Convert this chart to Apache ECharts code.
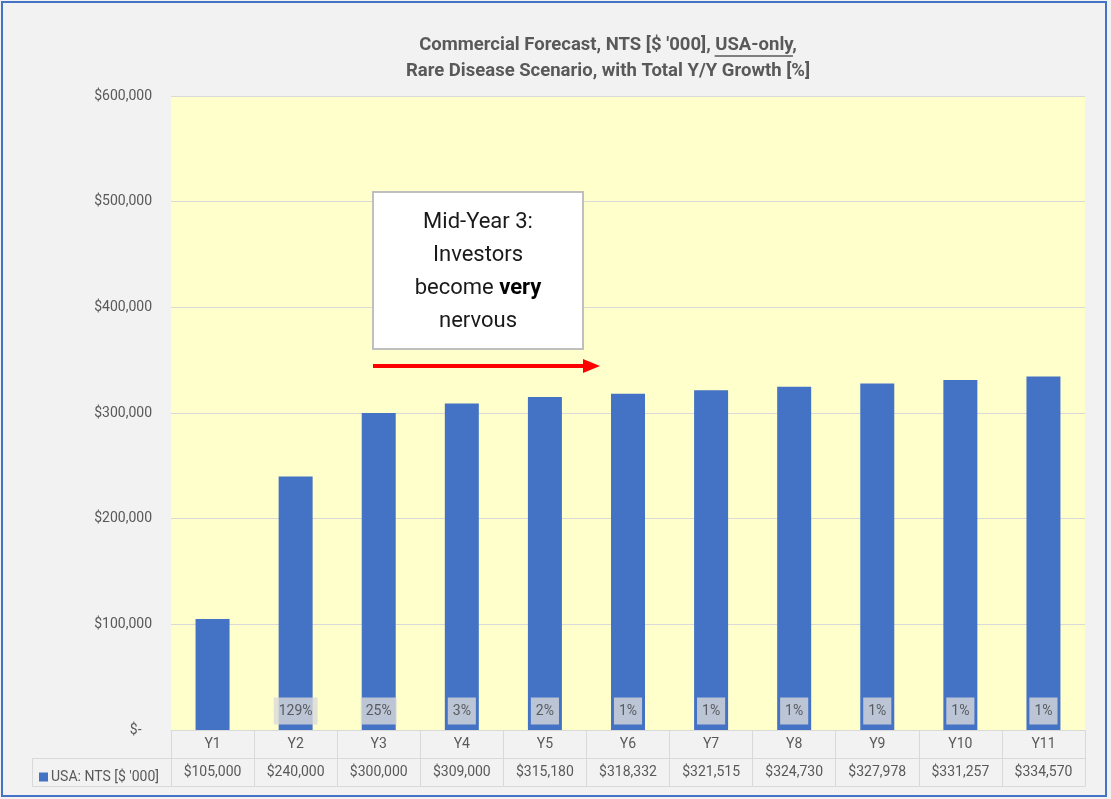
<!DOCTYPE html>
<html><head><meta charset="utf-8">
<script src="https://cdn.jsdelivr.net/npm/echarts@6/dist/echarts.min.js"></script>
<style>html,body{margin:0;padding:0;background:#f2f2f2}#c{width:1111px;height:799px}</style>
</head><body><div id="c"></div>
<script>
const categories = ['Y1','Y2','Y3','Y4','Y5','Y6','Y7','Y8','Y9','Y10','Y11'];
const nts = [105000,240000,300000,309000,315180,318332,321515,324730,327978,331257,334570];
const growthPct = [null,129,25,3,2,1,1,1,1,1,1];
const seriesName = "USA: NTS [$ '000]";
const titleLine1a = "Commercial Forecast, NTS [$ '000], ";
const titleLine1u = "USA-only";
const titleLine1b = ",";
const titleLine2 = "Rare Disease Scenario, with Total Y/Y Growth [%]";
const yMin = 0, yMax = 600000, yStep = 100000;

const FONT = 'Roboto, "Liberation Sans", sans-serif';
const fmtMoney = v => v === 0 ? '$-' : '$' + v.toLocaleString('en-US');

const chart = echarts.init(document.getElementById('c'), null, {renderer:'canvas'});

// measure title for underline
const cv = document.createElement('canvas').getContext('2d');
const titleFont = 'bold 18.5px ' + FONT;
cv.font = titleFont;
const wA = cv.measureText(titleLine1a).width;
const wU = cv.measureText(titleLine1u).width;
const wB = cv.measureText(titleLine1b).width;
const wAll = wA + wU + wB;
const tCx = 608;
const uX0 = tCx - wAll/2 + wA;

const lineColor = '#d9d9d9';
const txtColor = '#595959';

chart.setOption({
  backgroundColor: '#f2f2f2',
  animation: false,
  textStyle: {fontFamily: FONT},
  grid: {left:171, right:26, top:96, bottom:69, show:true, backgroundColor:'#ffffcc', borderWidth:0},
  legend: {
    data:[seriesName], left:34, top:765, icon:'rect', itemWidth:9, itemHeight:9, itemGap:4,
    textStyle:{color:txtColor, fontSize:14, fontFamily:FONT, padding:[0,0,0,-2]}, selectedMode:false
  },
  xAxis: [
    {type:'category', data:categories, position:'bottom',
     axisLine:{show:true, lineStyle:{color:lineColor, width:1}},
     axisTick:{show:true, length:56, lineStyle:{color:lineColor, width:1}},
     axisLabel:{color:txtColor, fontSize:14, margin:7, fontFamily:FONT}},
    {type:'category', data:nts.map(fmtMoney), position:'bottom', offset:28,
     axisLine:{show:true, lineStyle:{color:lineColor, width:1}},
     axisTick:{show:false},
     axisLabel:{color:txtColor, fontSize:14, margin:7, fontFamily:FONT}},
    {type:'category', data:categories, position:'bottom', offset:56,
     axisLine:{show:true, lineStyle:{color:lineColor, width:1}},
     axisTick:{show:false}, axisLabel:{show:false}}
  ],
  yAxis: {
    type:'value', min:yMin, max:yMax, interval:yStep,
    axisLine:{show:false}, axisTick:{show:false},
    axisLabel:{color:txtColor, fontSize:14, margin:19, fontFamily:FONT,
      formatter: v => v === 0 ? '$-   ' : fmtMoney(v)},
    splitLine:{lineStyle:{color:lineColor, width:1}}
  },
  series: [
    {name:seriesName, type:'bar', data:nts, barWidth:34, xAxisIndex:0,
     itemStyle:{color:'#4472c4'}},
    {name:'growth', type:'scatter', xAxisIndex:0, z:5, symbolSize:1,
     itemStyle:{color:'rgba(0,0,0,0)'},
     data: growthPct.map((g,i) => g == null ? null : [categories[i], 0, g]).filter(d => d),
     label:{show:true, position:'inside', offset:[0,-19], backgroundColor:'#d9d9d9',
       padding:[7,5,6,5], color:'#404040', fontSize:14, fontFamily:FONT,
       formatter: p => p.value[2] + '%'}}
  ],
  graphic: [
    {type:'text', x:tCx, y:45, style:{text:titleLine1a + titleLine1u + titleLine1b, font:titleFont, fill:txtColor, align:'center', verticalAlign:'middle'}},
    {type:'line', shape:{x1:uX0, y1:56, x2:uX0+wU, y2:56}, style:{stroke:txtColor, lineWidth:1.3}},
    {type:'text', x:tCx, y:71, style:{text:titleLine2, font:titleFont, fill:txtColor, align:'center', verticalAlign:'middle'}},
    // table left cell lines
    {type:'line', shape:{x1:32, y1:758.5, x2:171, y2:758.5}, style:{stroke:lineColor, lineWidth:1}},
    {type:'line', shape:{x1:32, y1:786.5, x2:171, y2:786.5}, style:{stroke:lineColor, lineWidth:1}},
    {type:'line', shape:{x1:32.5, y1:758, x2:32.5, y2:786}, style:{stroke:lineColor, lineWidth:1}},
    // annotation box
    {type:'rect', shape:{x:373, y:192, width:210, height:157}, style:{fill:'#ffffff', stroke:'#bfbfbf', lineWidth:2}, z:10},
    {type:'text', x:478, y:272, z:11, style:{
      text:'{n|Mid-Year 3:}\n{n|Investors}\n{n|become }{b|very}\n{n|nervous}',
      align:'center', verticalAlign:'middle',
      rich:{n:{font:'22px ' + FONT, fill:'#1a1a1a', lineHeight:33},
            b:{font:'bold 22px ' + FONT, fill:'#000000', lineHeight:33}}}},
    // arrow
    {type:'line', z:10, shape:{x1:373, y1:366, x2:586, y2:366}, style:{stroke:'#ff0000', lineWidth:4}},
    {type:'polygon', z:10, shape:{points:[[583,359],[600,366],[583,373]]}, style:{fill:'#ff0000'}},
    // outer frame
    {type:'rect', z:20, silent:true, shape:{x:2, y:2, width:1104, height:794}, style:{fill:'none', stroke:'#4472c4', lineWidth:2}}
  ]
});
</script></body></html>
